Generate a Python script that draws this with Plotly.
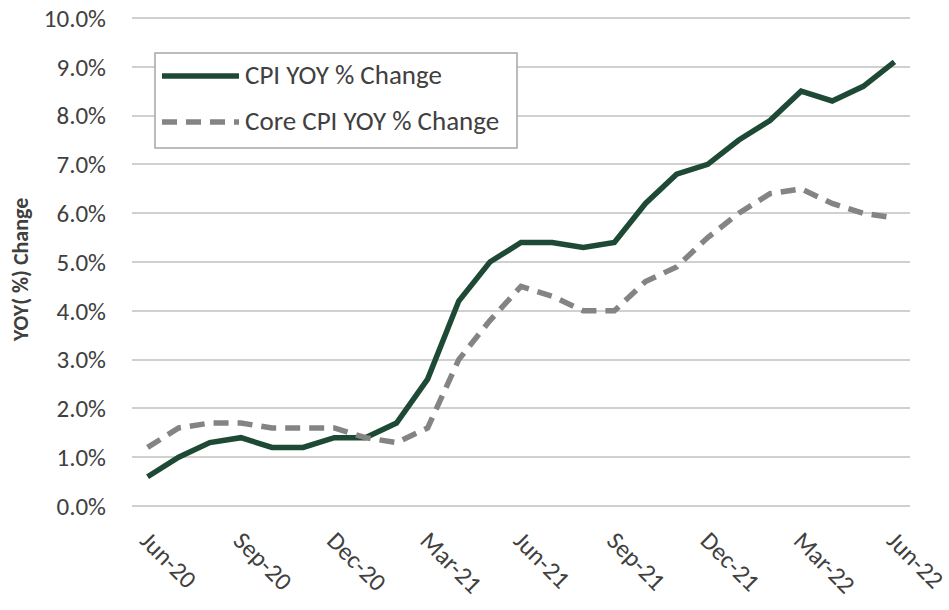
import plotly.graph_objects as go

months = ["Jun-20", "Jul-20", "Aug-20", "Sep-20", "Oct-20", "Nov-20", "Dec-20",
          "Jan-21", "Feb-21", "Mar-21", "Apr-21", "May-21", "Jun-21", "Jul-21",
          "Aug-21", "Sep-21", "Oct-21", "Nov-21", "Dec-21", "Jan-22", "Feb-22",
          "Mar-22", "Apr-22", "May-22", "Jun-22"]
cpi = [0.6, 1.0, 1.3, 1.4, 1.2, 1.2, 1.4, 1.4, 1.7, 2.6, 4.2, 5.0, 5.4, 5.4,
       5.3, 5.4, 6.2, 6.8, 7.0, 7.5, 7.9, 8.5, 8.3, 8.6, 9.1]
core = [1.2, 1.6, 1.7, 1.7, 1.6, 1.6, 1.6, 1.4, 1.3, 1.6, 3.0, 3.8, 4.5, 4.3,
        4.0, 4.0, 4.6, 4.9, 5.5, 6.0, 6.4, 6.5, 6.2, 6.0, 5.9]
tick_months = ["Jun-20", "Sep-20", "Dec-20", "Mar-21", "Jun-21", "Sep-21",
               "Dec-21", "Mar-22", "Jun-22"]
y_ticks = [0, 1, 2, 3, 4, 5, 6, 7, 8, 9, 10]
series_names = ["CPI YOY % Change", "Core CPI YOY % Change"]

FONT = "Carlito, Lato, sans-serif"
GREEN = "#1E4A35"
GREY = "#848484"
DASH = "15px,9px"

# plot area: x 132..910, y (0%) 506 .. (10%) 18 ; top margin 10 -> extra headroom
Y_TOP = 10 + 8 / 48.8

fig = go.Figure()
fig.add_trace(go.Scatter(x=months, y=cpi, mode="lines", name=series_names[0],
                         line=dict(color=GREEN, width=5.5), showlegend=False))
fig.add_trace(go.Scatter(x=months, y=core, mode="lines", name=series_names[1],
                         line=dict(color=GREY, width=5.5, dash=DASH), showlegend=False))

def py(pix):
    return (506 - pix) / 496.0

def px(pix):
    return (pix - 132) / 778.0

# legend box (paper-space shapes so the key lines match the original length)
fig.add_shape(type="rect", xref="paper", yref="paper", x0=px(155), x1=px(517),
              y0=py(148), y1=py(53), line=dict(color="#A6A6A6", width=1.5),
              fillcolor="white", layer="above")
for yk, col, dash, name in [(py(76), GREEN, "solid", series_names[0]),
                            (py(122), GREY, DASH, series_names[1])]:
    fig.add_shape(type="line", xref="paper", yref="paper", x0=px(162), x1=px(239),
                  y0=yk, y1=yk, line=dict(color=col, width=5.5, dash=dash),
                  layer="above")
    fig.add_annotation(xref="paper", yref="paper", x=px(243), y=yk + 0.004,
                       xanchor="left", yanchor="middle", text=name, showarrow=False,
                       font=dict(family=FONT, size=27, color="#404040"))

fig.add_annotation(xref="paper", yref="paper", x=px(20), y=py(270),
                   xanchor="center", yanchor="middle", textangle=-90,
                   text="<b>YOY( %) Change</b>", showarrow=False,
                   font=dict(family=FONT, size=22, color="#404040"))

fig.update_layout(
    width=949, height=610,
    margin=dict(l=132, r=39, t=10, b=104),
    paper_bgcolor="white", plot_bgcolor="white",
    font=dict(family=FONT, color="#404040"),
    showlegend=False,
    xaxis=dict(type="category", range=[-0.5, 24.5], tickmode="array",
               tickvals=tick_months, ticktext=tick_months, tickangle=45,
               showgrid=False, showline=False, ticks="", automargin=False,
               ticklabelstandoff=14, ticklabeloverflow="allow",
               tickfont=dict(family=FONT, size=25, color="#404040")),
    yaxis=dict(range=[0, Y_TOP], tickmode="array", tickvals=y_ticks,
               ticktext=[f"{v:.1f}%" for v in y_ticks],
               showgrid=True, gridcolor="#D0D0D0", gridwidth=2,
               zeroline=True, zerolinecolor="#D0D0D0", zerolinewidth=2,
               showline=False, ticks="", ticklabelstandoff=25, automargin=False,
               ticklabeloverflow="allow",
               tickfont=dict(family=FONT, size=25, color="#404040")),
)

fig.write_html("out.html", config={"displayModeBar": False},
               post_script="document.body.style.margin='0';")
